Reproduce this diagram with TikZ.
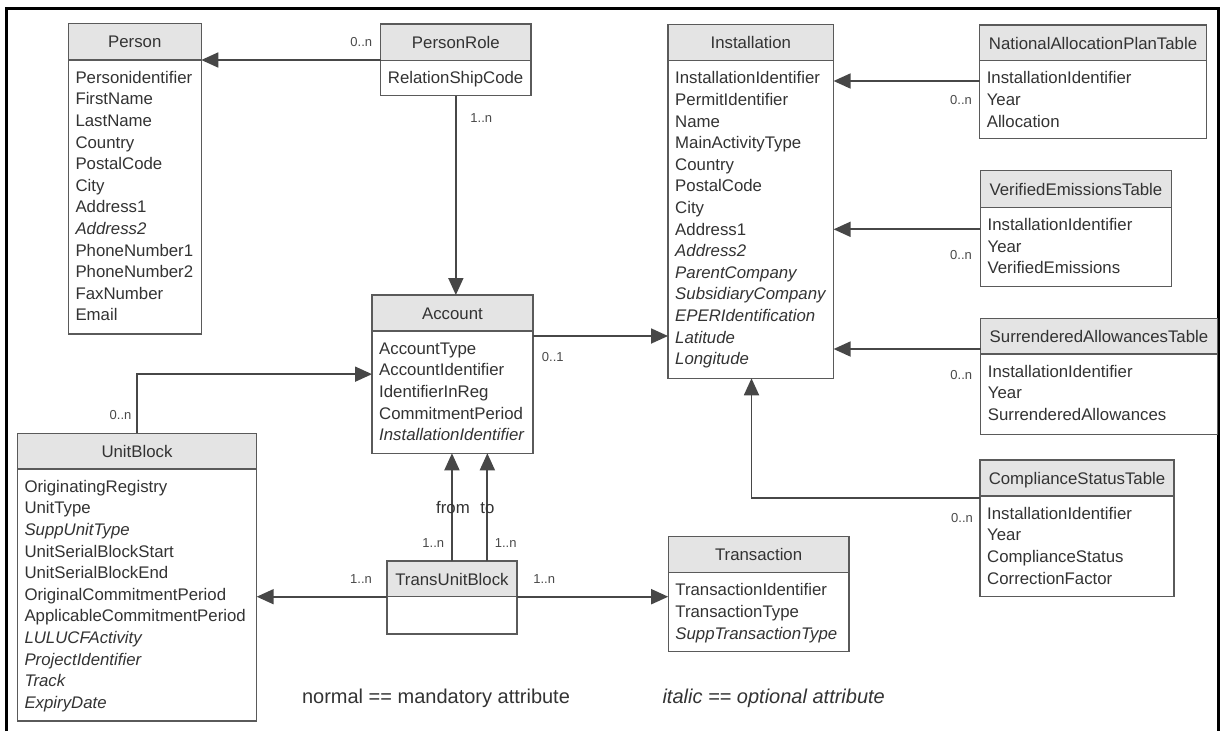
\documentclass[tikz,border=0pt]{standalone}
\usepackage{fontspec}
\setmainfont{Liberation Sans}
\usetikzlibrary{arrows.meta}
\definecolor{linec}{HTML}{474747}
\definecolor{boxc}{HTML}{5A5A5A}
\definecolor{headc}{HTML}{E4E4E4}
\definecolor{textc}{HTML}{333333}
\definecolor{multc}{HTML}{4A4A4A}
\newcommand\attrfont{\fontsize{16.8}{21.6}\selectfont}
\newcommand\multfont{\fontsize{13}{15}\selectfont}
\newcommand\legfont{\fontsize{20}{24}\selectfont}
% name, left, top, right, bottom, header bottom, title, attributes
\newcommand\umlclass[8]{%
  \node[classbox, minimum width={#4-#2}, minimum height={#5-#3}] (#1) at (#2,#3) {};
  \node[classhead, minimum width={#4-#2}, minimum height={#6-#3}] (#1-h) at (#2,#3) {#7};
  \node[classattr] (#1-t) at (#2+7,#6+7.9) {\strut #8};
}
\begin{document}
\begin{tikzpicture}[x=1pt,y=-1pt,
  classbox/.style={draw=boxc, line width=1.3pt, fill=white, inner sep=0pt, outer sep=0pt, anchor=north west},
  classhead/.style={draw=boxc, line width=1.3pt, fill=headc, inner sep=0pt, outer sep=0pt, anchor=north west, font=\attrfont, text=textc, text height=12.5pt, text depth=0pt},
  classattr/.style={anchor=north west, inner sep=0pt, align=left, font=\attrfont, text=textc},
  mult/.style={font=\multfont, text=multc, inner sep=0pt, text height=9.3pt, text depth=0pt},
  rolelab/.style={font=\attrfont, text=textc, inner sep=0pt, text height=12pt, text depth=0pt},
  legend/.style={font=\legfont, text=textc, inner sep=0pt, text height=14pt, text depth=0pt},
  assoc/.style={draw=linec, line width=1.8pt, -{Triangle[length=17pt,width=15pt]}}]
\useasboundingbox (0,0) rectangle (1220,731);
\fill[white] (0,0) rectangle (1220,731);
\draw[line width=3pt] (6.7,731) -- (6.7,8.3) -- (1218.7,8.3) -- (1218.7,731);

\umlclass{person}{68.3}{23.3}{201.3}{334}{60}{Person}{Personidentifier\\FirstName\\LastName\\Country\\PostalCode\\City\\Address1\\\textit{Address2}\\PhoneNumber1\\PhoneNumber2\\FaxNumber\\Email}
\umlclass{personrole}{380.7}{24}{531}{95.7}{60.7}{PersonRole}{RelationShipCode}
\umlclass{installation}{668}{24.3}{833.6}{378.3}{60.7}{Installation}{InstallationIdentifier\\PermitIdentifier\\Name\\MainActivityType\\Country\\PostalCode\\City\\Address1\\\textit{Address2}\\\textit{ParentCompany}\\\textit{SubsidiaryCompany}\\\textit{EPERIdentification}\\\textit{Latitude}\\\textit{Longitude}}
\umlclass{nap}{979.6}{25}{1206.4}{138.3}{60.7}{NationalAllocationPlanTable}{InstallationIdentifier\\Year\\Allocation}
\umlclass{ve}{980.4}{170.7}{1171.4}{286.7}{207.3}{VerifiedEmissionsTable}{InstallationIdentifier\\Year\\VerifiedEmissions}
\umlclass{sa}{980.7}{318.3}{1217.3}{434.3}{354}{SurrenderedAllowancesTable}{InstallationIdentifier\\Year\\SurrenderedAllowances}
\umlclass{cs}{980}{460}{1174}{596.7}{496}{ComplianceStatusTable}{InstallationIdentifier\\Year\\ComplianceStatus\\CorrectionFactor}
\umlclass{account}{372}{295}{532.9}{453.3}{331}{Account}{AccountType\\AccountIdentifier\\IdentifierInReg\\CommitmentPeriod\\\textit{InstallationIdentifier}}
\umlclass{unitblock}{17.3}{433.3}{256.7}{721}{469}{UnitBlock}{OriginatingRegistry\\UnitType\\\textit{SuppUnitType}\\UnitSerialBlockStart\\UnitSerialBlockEnd\\OriginalCommitmentPeriod\\ApplicableCommitmentPeriod\\\textit{LULUCFActivity}\\\textit{ProjectIdentifier}\\\textit{Track}\\\textit{ExpiryDate}}
\umlclass{tub}{386.9}{561}{517}{634}{596.7}{TransUnitBlock}{}
\umlclass{transaction}{668.2}{536.7}{849}{651.7}{572.7}{Transaction}{TransactionIdentifier\\TransactionType\\\textit{SuppTransactionType}}

% connectors
\draw[assoc] (personrole.west |- person-h.south) -- (person-h.south east);
\node[mult] (m1) at (361.3,42) {0..n};
\draw[assoc] (personrole.south) -- (personrole.south |- account.north);
\node[mult] (m2) at (481.3,118) {1..n};
\draw[assoc] (account.east |- 0,336) -- (installation.west |- 0,336);
\node[mult] (m3) at (552.8,357) {0..1};
\draw[assoc] (unitblock.north) |- (account.west);
\node[mult] (m4) at (120.5,415) {0..n};
\draw[assoc] (tub.north) -- (tub.north |- account.south);
\draw[assoc] ([xshift=35.4pt]tub.north) -- ([xshift=35.4pt]tub.north |- account.south);
\node[rolelab] (from) at (453,507) {from};
\node[rolelab] (to) at (487.4,507) {to};
\node[mult] (m5) at (433.3,543) {1..n};
\node[mult] (m6) at (505.7,543) {1..n};
\draw[assoc] (tub-h.south west) -- (unitblock.east |- tub-h.south);
\draw[assoc] (tub-h.south east) -- (transaction.west |- tub-h.south);
\node[mult] (m7) at (361,579.3) {1..n};
\node[mult] (m8) at (544.2,579) {1..n};
\draw[assoc] (nap.west |- 0,81) -- (installation.east |- 0,81);
\node[mult] (m9) at (961,100) {0..n};
\draw[assoc] (ve.west |- 0,229.3) -- (installation.east |- 0,229.3);
\node[mult] (m10) at (961,255) {0..n};
\draw[assoc] (sa.west |- 0,349) -- (installation.east |- 0,349);
\node[mult] (m11) at (961.3,375) {0..n};
\draw[assoc] (cs.west |- 0,498) -| (installation.south -| 751.5,0);
\node[mult] (m12) at (962,518) {0..n};

% legend
\node[legend] (leg1) at (436,696) {normal == mandatory attribute};
\node[legend] (leg2) at (773.7,696) {\textit{italic == optional attribute}};
\end{tikzpicture}
\end{document}
